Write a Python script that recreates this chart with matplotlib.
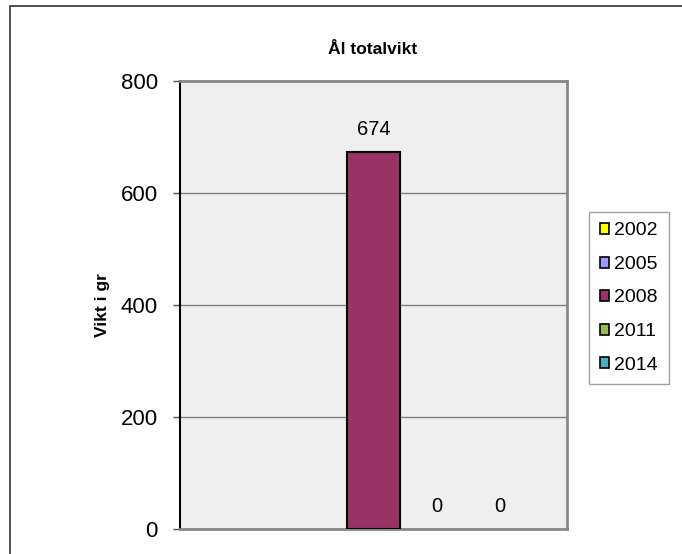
import numpy as np
import matplotlib
matplotlib.use('Agg')
import matplotlib.pyplot as plt
from matplotlib.patches import Rectangle, Patch

plt.rcParams['font.family'] = ['Liberation Sans', 'DejaVu Sans']

# data
years = ['2002', '2005', '2008', '2011', '2014']
weights = [np.nan, np.nan, 674, 0, 0]
colors = ['#FFFF00', '#9999FF', '#993366', '#9BBB59', '#4BACC6']
yticks = [0, 200, 400, 600, 800]

fig = plt.figure(figsize=(6.82, 5.54), dpi=100)

# outer chart frame
fig.patches.append(Rectangle((10 / 682, -0.1), 1.2, 1.1 - 6 / 554,
                             transform=fig.transFigure, fill=False,
                             edgecolor='#333333', linewidth=1.2))

ax = fig.add_axes([180 / 682, 1 - 529 / 554, 387 / 682, 448 / 554])
ax.set_facecolor('#EFEFEF')

x = np.arange(len(years))
bw = 53 / 63
for i, (val, col) in enumerate(zip(weights, colors)):
    if np.isnan(val):
        continue
    if val > 0:
        ax.bar(x[i], val, bw, color=col, edgecolor='black', linewidth=1.5,
               zorder=3)
    ax.annotate(f'{val:.0f}', xy=(x[i], val), xytext=(0, 16),
                textcoords='offset points', ha='center', va='center',
                fontsize=14.5, zorder=4)

half = 387 / 63 / 2
ax.set_xlim(2 - half, 2 + half)
ax.set_ylim(0, 800)
ax.set_yticks(yticks)
ax.set_yticklabels([str(t) for t in yticks], fontsize=16)
ax.set_xticks([])
ax.yaxis.grid(True, color='#808080', linewidth=1)
ax.set_axisbelow(True)
ax.tick_params(axis='y', length=5, width=1, color='#555555', pad=11)

for side in ['top', 'right', 'bottom']:
    ax.spines[side].set_color('#888888')
    ax.spines[side].set_linewidth(2)
ax.spines['left'].set_color('black')
ax.spines['left'].set_linewidth(1.5)

ax.set_ylabel('Vikt i gr', fontsize=12.5, fontweight='bold', labelpad=8)
fig.text(373 / 682, 1 - 50 / 554, 'Ål totalvikt', ha='center', va='center',
         fontsize=12.5, fontweight='bold')

handles = [Patch(facecolor=c, edgecolor='black', linewidth=1.2, label=y)
           for y, c in zip(years, colors)]
leg = ax.legend(handles=handles, loc='center left',
                bbox_to_anchor=(589 / 682, 1 - 298 / 554),
                bbox_transform=fig.transFigure, fontsize=14, frameon=True,
                fancybox=False, edgecolor='#888888', handlelength=0.5,
                handleheight=0.5, handletextpad=0.25, labelspacing=0.85,
                borderpad=0.55, borderaxespad=0)
leg.get_frame().set_linewidth(1)

fig.savefig('out.png', dpi=100)
